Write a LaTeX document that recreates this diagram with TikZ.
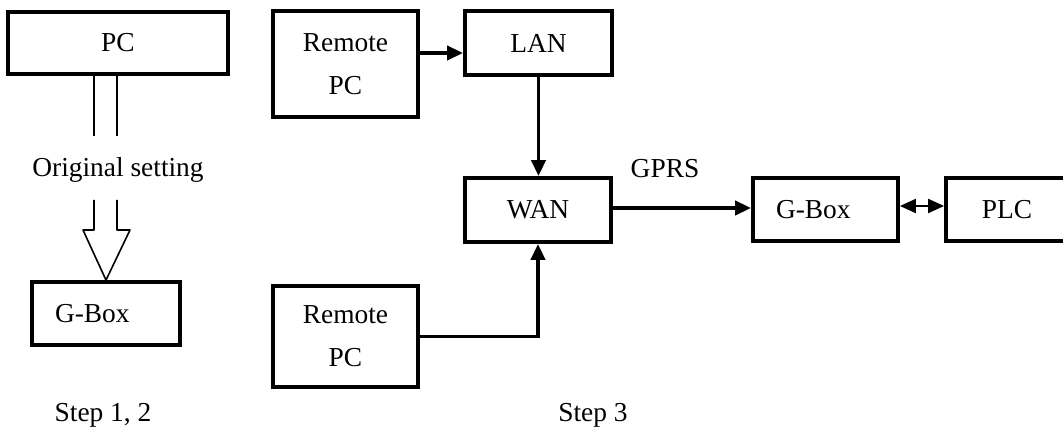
\documentclass[tikz,border=0pt]{standalone}
\usepackage{fontspec}
\setmainfont{Liberation Serif}
\usetikzlibrary{arrows.meta}

\begin{document}
\begin{tikzpicture}[x=0.5pt, y=-0.5pt, font=\fontsize{13.7}{21.5}\selectfont,
		>={Triangle[length=8pt,width=7pt]},
		blk/.style={draw, line width=1.9pt, inner sep=0pt, align=center},
		blkleft/.style={draw, line width=1.9pt, inner xsep=11.5pt, inner ysep=0pt, text width=51pt, align=left},
		conn/.style={->, line width=1.9pt},
		hollow/.style={line width=0.8pt}]
		\useasboundingbox (0,0) rectangle (1063,437);
		
		% --- 1. Step 1, 2 ---
		\node[blk, minimum width=110pt, minimum height=31pt] (pc) at (118,43) {PC};
		\node[blkleft, minimum height=31.5pt] (gboxa) at (106,313.5) {G-Box};
		\node (orig) at (118,170) {Original setting};
		\node (stepa) at (103,415) {Step 1, 2};
		
		% hollow arrow, cut by the text
		\coordinate (sl) at (94,136);
		\coordinate (sr) at (117,136);
		\draw[hollow] (pc.south -| sl) -- (sl);
		\draw[hollow] (pc.south -| sr) -- (sr);
		\draw[hollow, line join=round] (94,200) -- (94,230) -- (83,230) -- (gboxa.north) -- (130,230) -- (117,230) -- (117,200);
		
		% --- 2. Step 3 ---
		\node[blk, minimum width=72.5pt, minimum height=53pt] (rpca) at (345.5,64) {Remote\\PC};
		\node[blk, minimum width=73.5pt, minimum height=32pt] (lan) at (538.5,43) {LAN};
		\node[blk, minimum width=73pt, minimum height=32pt] (wan) at (538,210) {WAN};
		\node[blk, minimum width=72.5pt, minimum height=50.5pt] (rpcb) at (345.5,336.5) {Remote\\PC};
		\node[blkleft, text width=49.5pt, minimum height=31.5pt] (gboxb) at (825.5,209.5) {G-Box};
		\node[blk, minimum width=61pt, minimum height=31.5pt] (plc) at (1007,209.5) {PLC};
		\node (gprs) at (665,169) {GPRS};
		\node (stepb) at (593,415) {Step 3};
		
		% --- 3. Connectors ---
		\draw[conn] ([yshift=5.5pt]rpca.east) -- ([yshift=5.5pt]rpca.east -| lan.west);
		\draw[conn] (lan.south) -- (lan.south |- wan.north);
		\draw[conn] (rpcb.east) -| (wan.south);
		\draw[conn] ([yshift=1pt]wan.east) -- ([yshift=1pt]wan.east -| gboxb.west);
		\draw[<->, line width=1pt] ([yshift=1.75pt]gboxb.east) -- ([yshift=1.75pt]gboxb.east -| plc.west);
	\end{tikzpicture}
\end{document}
